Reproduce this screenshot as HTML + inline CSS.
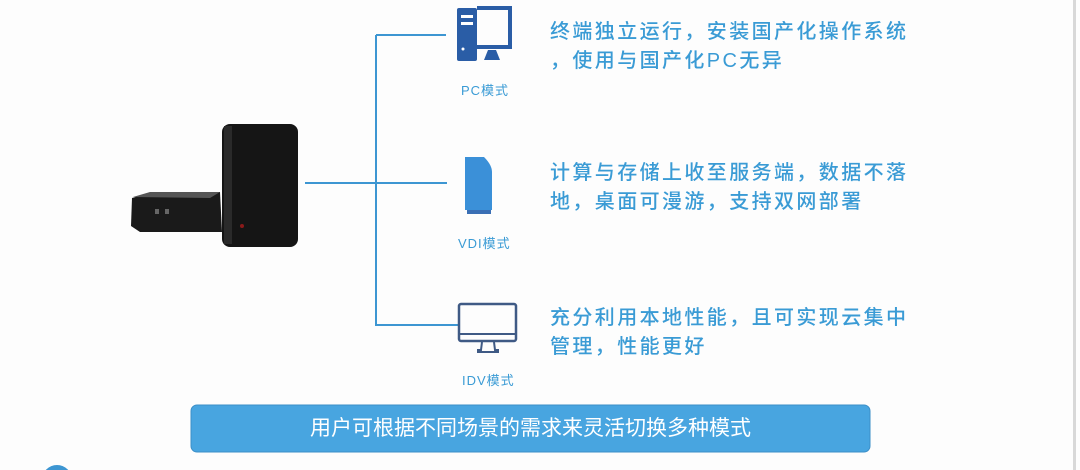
<!DOCTYPE html>
<html><head><meta charset="utf-8"><style>
html,body{margin:0;width:1080px;height:470px;overflow:hidden}
body{background:#fdfdfd;position:relative;font-family:"Liberation Sans","Noto Sans CJK SC",sans-serif}
.a{position:absolute}
.t{position:absolute;left:550px;color:#3a9bd5;font-size:20px;letter-spacing:2.4px;line-height:29px;white-space:nowrap;font-weight:500}
.l{position:absolute;color:#3a9bd5;font-size:13px;letter-spacing:1px}
</style></head><body>
<div class="a" style="left:1073px;top:0;width:3px;height:470px;background:#d8d8d8"></div>
<svg class="a" style="left:0;top:0;overflow:hidden" width="1080" height="470">
<g stroke="#3d96d2" stroke-width="2" fill="none">
<line x1="376" y1="35" x2="376" y2="326"/>
<line x1="376" y1="35" x2="446" y2="35"/>
<line x1="305" y1="183" x2="447" y2="183"/>
<line x1="376" y1="325" x2="459" y2="325"/>
</g>
<path d="M132 198 L150 193 L220 192 L222 232 L140 232 L131 226 Z" fill="#1a1a1a"/>
<path d="M133 197 L150 192 L220 192 L210 198 Z" fill="#555"/>
<rect x="155" y="209" width="4" height="5" fill="#666"/><rect x="165" y="209" width="4" height="5" fill="#666"/>
<rect x="222" y="124" width="76" height="123" rx="8" fill="#151515"/>
<rect x="224" y="126" width="8" height="118" fill="#2a2a2a"/>
<circle cx="242" cy="226" r="2" fill="#8a1a1a"/>
<rect x="457" y="8" width="20" height="53" rx="2" fill="#2a5da6"/>
<rect x="461" y="15" width="12" height="3" fill="#fff"/><rect x="461" y="22" width="12" height="3" fill="#fff"/>
<circle cx="463" cy="49" r="1.5" fill="#fff"/>
<path d="M477 8 H510 V47 H477" fill="none" stroke="#2a5da6" stroke-width="4"/>
<path d="M484 60 L488 50 H496 L500 60 Z" fill="#2a5da6"/>
<path d="M465 157 H484 Q492 165 492 172 V210 H465 Z" fill="#3b90d8"/>
<rect x="467" y="210" width="24" height="4" fill="#3a6fb5"/>
<rect x="459" y="304" width="57" height="37" rx="2" fill="none" stroke="#3f5a85" stroke-width="2.5"/>
<line x1="459" y1="334" x2="516" y2="334" stroke="#3f5a85" stroke-width="2"/>
<path d="M482 342 L481 350 H478 V352 H498 V350 H495 L494 342" fill="none" stroke="#3f5a85" stroke-width="2"/>
<rect x="191" y="405" width="679" height="47" rx="6" fill="#48a5e0" stroke="#3c8fc8"/>
<circle cx="57" cy="480" r="15" fill="#3d96d2"/>
</svg>
<div class="t" style="top:18px">终端独立运行，安装国产化操作系统<br>，使用与国产化PC无异</div>
<div class="t" style="top:159px">计算与存储上收至服务端，数据不落<br>地，桌面可漫游，支持双网部署</div>
<div class="t" style="top:304px">充分利用本地性能，且可实现云集中<br>管理，性能更好</div>
<div class="l" style="left:461px;top:80px">PC模式</div>
<div class="l" style="left:458px;top:233px">VDI模式</div>
<div class="l" style="left:462px;top:370px">IDV模式</div>
<div class="a" style="left:191px;top:405px;width:679px;height:47px;line-height:47px;text-align:center;color:#fff;font-size:21px">用户可根据不同场景的需求来灵活切换多种模式</div>
</body></html>
